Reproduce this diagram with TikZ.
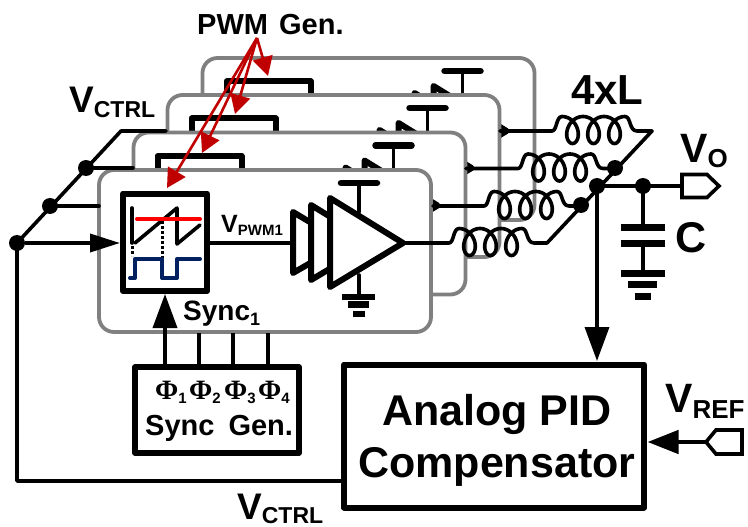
\documentclass[tikz,border=0pt]{standalone}
\usepackage{fontspec}
\setmainfont{Liberation Sans}
\newfontfamily\phifont{Liberation Serif}
\usetikzlibrary{arrows.meta}
\newcommand{\fsz}[1]{\fontsize{#1}{#1}\selectfont\bfseries}
\definecolor{panelgray}{HTML}{808080}
\definecolor{pwmred}{HTML}{C00000}
\definecolor{navyline}{HTML}{002060}
\tikzset{
  wire/.style={line width=3.6pt,line cap=round,line join=round},
  dot/.style={circle,fill=black,inner sep=0pt,minimum size=16pt},
  txt/.style={inner sep=0pt,anchor=base west,text=black},
  panelbox/.style={draw=panelgray,fill=white,line width=3.8pt,rounded corners=15pt},
  thickbox/.style={draw=black,fill=white,line width=6pt,line join=round},
  stage/.style={draw=black,fill=white,line width=6pt,line join=round},
  plate/.style={line width=6.5pt},
  bigtip/.style={-{Triangle[length=34pt,width=24pt]}},
  redarrow/.style={draw=pwmred,line width=2.6pt,-{Triangle[length=19pt,width=20pt]}},
  term/.style={draw=black,fill=white,line width=3.6pt,line join=miter}
}
% one PWM channel, drawn at the position of the front one
\newcommand{\channel}{%
  \draw[panelbox] (99,170) rectangle (431,332);
  \draw[thickbox] (123,193.5) rectangle (207,291);
  \draw[stage] (293,212) -- (345,243) -- (293,273) -- cycle;
  \draw[stage] (311,205) -- (373,243) -- (311,280) -- cycle;
  \draw[wire] (359,183) -- (359,212);
  \draw[wire] (359,275) -- (359,297);
  \draw[stage] (330,198) -- (403,243) -- (330,287) -- cycle;
  \draw[line width=6.5pt,line cap=round] (341,183) -- (377,183);
  \draw[plate] (342,297) -- (375,297);
  \draw[plate] (348,304.5) -- (369,304.5);
  \draw[plate] (353,314) -- (365,314);
}
% inductor: wire start, first top x, wire level, wire end
\newcommand{\coil}[4]{%
  \draw[wire] (#1,#3) -- (#2-10,#3) .. controls (#2-5,#3) and (#2-6,#3-14.5) .. (#2,#3-14.5)
    -- plot[domain=0:1080,samples=160] ({#2+\x/360*21+10.5*sin(\x)},{#3-1-13.5*cos(\x)})
    .. controls (#2+69,#3-14.5) and (#2+67,#3) .. (#2+75,#3) -- (#4,#3);
}
\begin{document}
\begin{tikzpicture}[x=1pt,y=-1pt]
\useasboundingbox[fill=white] (0,0) rectangle (748,527);

% stacked channels, back to front
\begin{scope}[shift={(103.5,-112)}]\channel\end{scope}
\begin{scope}[shift={(68.5,-75)}]\channel\end{scope}
\begin{scope}[shift={(34.5,-37.5)}]\channel\end{scope}
\channel

% details of the front channel
\draw[line width=3.6pt,line cap=round] (132,208) -- (132,243);
\draw[line width=3.6pt,line cap=round,line join=round] (135,243) -- (177,208) -- (177,244) -- (200,225);
\draw[red,line width=4pt,line cap=round] (137,219) -- (200,219);
\draw[line width=3pt,dash pattern=on 2.5pt off 2.5pt] (132,246) -- (132,256);
\draw[line width=3pt,dash pattern=on 2.5pt off 2.5pt] (162,221) -- (162,258);
\draw[navyline,line width=4pt,line cap=round,line join=round] (130,278) -- (135,278) -- (135,259) -- (162,259) -- (162,278) -- (177,278) -- (177,259) -- (200,259);
\coordinate (pwmout) at (209,243);
\coordinate (drvin) at (293,243);
\draw[wire] (pwmout) -- (drvin);

% control rail
\node[dot] (c1) at (17,243) {};
\node[dot] (c2) at (50,206) {};
\node[dot] (c3) at (86,168) {};
\coordinate (railtop) at (121,131);
\coordinate (p3in) at (166,131);
\coordinate (p2in) at (133,168);
\coordinate (p1in) at (99,206);
\coordinate (pwmin) at (120,243);
\draw[wire] (c1.center) -- (railtop) -- (p3in);
\draw[wire] (c3) -- (p2in);
\draw[wire] (c2) -- (p1in);
\draw[wire,line cap=butt,-{Triangle[length=30pt,width=18pt]}] (c1) -- (pwmin);

% PID and sync blocks
\node[thickbox,minimum width=300pt,minimum height=143pt,inner sep=0pt] (pid) at (494,436) {};
\node[thickbox,line width=5.5pt,minimum width=164pt,minimum height=86pt,inner sep=0pt] (sync) at (217,410) {};
\coordinate (pidw) at (341,481);
\coordinate (railc) at (17,481);
\draw[wire] (c1.center) -- (railc) -- (pidw);
\coordinate (s1t) at (165,294);
\coordinate (s2t) at (199,333);
\coordinate (s3t) at (233,333);
\coordinate (s4t) at (268,333);
\draw[wire,line cap=butt,bigtip] (165,366) -- (s1t);
\draw[wire,line cap=butt] (199,366) -- (s2t);
\draw[wire,line cap=butt] (233,366) -- (s3t);
\draw[wire,line cap=butt] (268,366) -- (s4t);

% inductors and output network
\coordinate (n4) at (547,243);
\coordinate (n1) at (652,131);
\node[dot] (d3) at (581,205) {};
\node[dot] (d2) at (615,168) {};
\node[dot] (vx) at (597,186) {};
\node[dot] (vc) at (643,186) {};
\coil{403}{459}{243}{547}
\coil{433}{494}{206}{581}
\coil{466}{528}{168.5}{615}
\coil{500}{562}{131}{652}
\draw[wire,line join=miter] (n4) -- (n1);
\coordinate (vop) at (682,186);
\draw[wire] (vx.center) -- (vop);
\draw[term] (vop) -- (682,174.5) -- (707,174.5) -- (719,186) -- (707,197.5) -- (682,197.5) -- cycle;
\coordinate (pidt) at (597,361);
\draw[wire,line cap=butt,bigtip] (vx.center) -- (pidt);

% capacitor and ground
\coordinate (cap1) at (643,227);
\coordinate (cap2) at (643,243);
\coordinate (gnd) at (643,273);
\draw[wire] (vc.center) -- (cap1);
\draw[wire] (cap2) -- (gnd);
\draw[line width=7pt] (621,227) -- (665,227);
\draw[line width=7pt] (621,243) -- (665,243);
\draw[line width=7pt] (621,273) -- (665,273);
\draw[line width=7pt] (628,284) -- (657,284);
\draw[line width=7pt] (635,296) -- (651,296);

% V_REF input
\coordinate (vrefp) at (706,442);
\coordinate (pide) at (647.5,442);
\draw[line width=4.5pt,-{Triangle[length=31pt,width=23pt]}] (vrefp) -- (pide);
\draw[term] (vrefp) -- (716,430) -- (742,430) -- (742,454) -- (716,454) -- cycle;

% PWM Gen. pointers
\coordinate (pg) at (257,38);
\coordinate (t1) at (268,76);
\coordinate (t2) at (235,114);
\coordinate (t3) at (202,153);
\coordinate (t4) at (167,188);
\draw[redarrow] (pg) -- (t1);
\draw[redarrow] (pg) -- (t2);
\draw[redarrow] (pg) -- (t3);
\draw[redarrow] (pg) -- (t4);

% labels
\node[txt] (lpwm) at (197,35) {\fsz{29}PWM\hspace{3pt} Gen.};
\node[txt] (lc1) at (69,113) {\fsz{37}V\raisebox{-5pt}{\fsz{23}CTRL}};
\node[txt] (lc2) at (237,519) {\fsz{37}V\raisebox{-4pt}{\fsz{23}CTRL}};
\node[txt] (lpw) at (221,232) {\fsz{25}V\raisebox{-3pt}{\fsz{15}PWM1}};
\node[txt] (ls1) at (183,320) {\fsz{28}Sync\raisebox{-5pt}{\fsz{18}1}};
\node[txt] (l4x) at (571,105) {\fsz{42}4xL};
\node[txt] (lvo) at (680,163) {\fsz{41}V\raisebox{-5pt}{\fsz{26}O}};
\node[txt] (lcc) at (675,252) {\fsz{43}C};
\node[txt] (lvr) at (665,412) {\fsz{41}V\raisebox{-6pt}{\fsz{26}REF}};
\node[txt] (lp1) at (382,425) {\fsz{43}Analog PID};
\node[txt] (lp2) at (358,477) {\fsz{43}Compensator};
\node[txt] (lsg) at (145,435) {\fsz{29}Sync\hspace{6pt} Gen.};
\node[txt] (f1) at (155,399) {\phifont\fsz{28}Φ\raisebox{-4pt}{\fontspec{Liberation Sans}\fsz{15}1}};
\node[txt] (f2) at (189,399) {\phifont\fsz{28}Φ\raisebox{-4pt}{\fontspec{Liberation Sans}\fsz{15}2}};
\node[txt] (f3) at (224,399) {\phifont\fsz{28}Φ\raisebox{-4pt}{\fontspec{Liberation Sans}\fsz{15}3}};
\node[txt] (f4) at (258,399) {\phifont\fsz{28}Φ\raisebox{-4pt}{\fontspec{Liberation Sans}\fsz{15}4}};
\end{tikzpicture}
\end{document}
